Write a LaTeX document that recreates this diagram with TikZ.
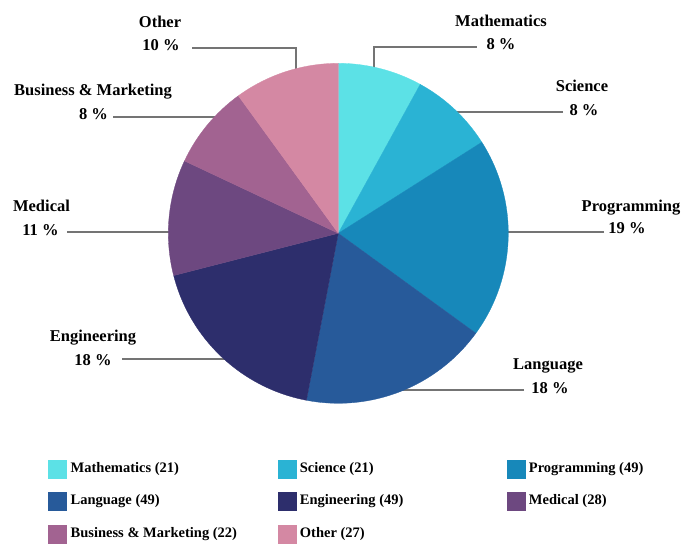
\documentclass[tikz,border=0pt]{standalone}
\usepackage{fontspec}
\setmainfont{Liberation Serif}
\usetikzlibrary{positioning}
\definecolor{mathcol}{HTML}{5CE1E6}
\definecolor{scicol}{HTML}{2AB3D4}
\definecolor{progcol}{HTML}{1788BA}
\definecolor{langcol}{HTML}{275A9A}
\definecolor{engcol}{HTML}{2D2E6C}
\definecolor{medcol}{HTML}{6D4880}
\definecolor{buscol}{HTML}{A26391}
\definecolor{othcol}{HTML}{D488A3}
\definecolor{leadcol}{HTML}{747474}
\tikzset{
  lbl/.style = {anchor=base, inner sep=0pt, font=\fontsize{16.5}{20}\selectfont\bfseries},
  leader/.style = {draw=leadcol, line width=2pt},
  swatch/.style = {minimum size=19pt, inner sep=0pt},
  legtext/.style = {inner sep=1pt, font=\fontsize{14.5}{17}\selectfont\bfseries}
}
\begin{document}
\begin{tikzpicture}[x=1pt, y=-1pt]
  \useasboundingbox (0, 0) rectangle (682, 543);
  \coordinate (pie) at (338.3, 233.3);
  \coordinate (othO) at (192, 48);
  \coordinate (othE) at (295.5, 75);
  \coordinate (matO) at (476.7, 46.7);
  \coordinate (matE) at (374, 75);
  \coordinate (sciO) at (563, 112.3);
  \coordinate (sciE) at (450, 112.3);
  \coordinate (proO) at (604, 232);
  \coordinate (proE) at (500, 232);
  \coordinate (lanO) at (524, 390);
  \coordinate (lanE) at (398, 390);
  \coordinate (engO) at (122, 359.3);
  \coordinate (engE) at (232, 359.3);
  \coordinate (medO) at (67, 232);
  \coordinate (medE) at (176, 232);
  \coordinate (busO) at (113, 116.7);
  \coordinate (busE) at (222, 116.7);
  \draw [leader] (othO) -| (othE);
  \draw [leader] (matO) -| (matE);
  \draw [leader] (sciO) -- (sciE);
  \draw [leader] (proO) -- (proE);
  \draw [leader] (lanO) -- (lanE);
  \draw [leader] (engO) -- (engE);
  \draw [leader] (medO) -- (medE);
  \draw [leader] (busO) -- (busE);
  \foreach \from/\to/\col in {0/8/mathcol, 8/16/scicol, 16/35/progcol, 35/53/langcol,
    53/71/engcol, 71/82/medcol, 82/90/buscol, 90/100/othcol}
  {
    \pgfmathsetmacro{\a}{-90 + \from*3.6};
    \pgfmathsetmacro{\b}{-90 + \to*3.6};
    \filldraw [fill=\col, draw=\col, line width=0.3pt, line join=round]
      (pie) -- ++(\a:170) arc [start angle=\a, end angle=\b, radius=170] -- cycle;
  }
  \node [lbl] (othN) at (160, 28) {Other};
  \node [lbl] (othP) at (161, 51) {10 \%};
  \node [lbl] (matN) at (501, 27) {Mathematics};
  \node [lbl] (matP) at (501, 50) {8 \%};
  \node [lbl] (sciN) at (582, 91.7) {Science};
  \node [lbl] (sciP) at (584, 115) {8 \%};
  \node [lbl] (proN) at (631, 211.7) {Programming};
  \node [lbl] (proP) at (627, 233.3) {19 \%};
  \node [lbl] (lanN) at (548, 369.3) {Language};
  \node [lbl] (lanP) at (550, 393) {18 \%};
  \node [lbl] (engN) at (93, 341.7) {Engineering};
  \node [lbl] (engP) at (93, 365) {18 \%};
  \node [lbl] (medN) at (41.5, 211.7) {Medical};
  \node [lbl] (medP) at (40.5, 235) {11 \%};
  \node [lbl] (busN) at (93, 95) {Business \& Marketing};
  \node [lbl] (busP) at (93.5, 119.3) {8 \%};
  \foreach \i/\x/\y/\col/\txt in {1/57.8/469/mathcol/Mathematics (21), 2/287/469/scicol/Science (21),
    3/516/469/progcol/Programming (49), 4/57.8/501.5/langcol/Language (49),
    5/287/501.5/engcol/Engineering (49), 6/516/501.5/medcol/Medical (28),
    7/57.8/534/buscol/Business \& Marketing (22), 8/287/534/othcol/Other (27)}
  {
    \node [swatch, fill=\col] (sw\i) at (\x, \y) {};
    \node [legtext, right=2pt of sw\i] (lg\i) {\txt};
  }
\end{tikzpicture}
\end{document}
